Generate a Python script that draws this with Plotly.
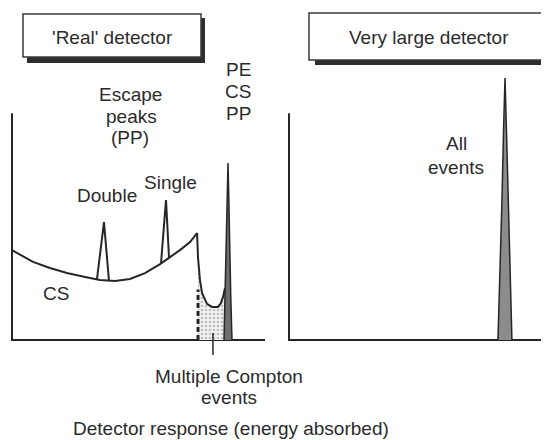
import numpy as np
import plotly.graph_objects as go

# ---- data (energy in keV, counts in arbitrary units) ----
# continuum of the 'real' detector: Compton shelf, edge, multiple-Compton valley
cont_energy = [0, 173, 313, 453, 602, 725, 849, 972, 1096, 1220, 1302, 1384,
               1467, 1525, 1533, 1549, 1566, 1607, 1648, 1698, 1722, 1739, 1755]
cont_counts = [32.1, 27.9, 25.7, 23.9, 22.5, 21.4, 21.1, 21.8, 23.9, 27.1, 29.6,
               32.1, 35.0, 38.2, 29.3, 21.4, 16.8, 12.9, 11.8, 11.8, 13.2, 15.4, 18.6]

# escape peaks (double, single)
esc_names = ["Double", "Single"]
esc_energy = [758, 1269]
esc_top = [42.1, 50.0]
esc_left = [700, 1228]
esc_right = [799, 1294]

# full-energy peak, real detector
pe_energy = [1747, 1758, 1767, 1773, 1780, 1786, 1792, 1803, 1813]
pe_counts = [0, 20, 36, 52, 63.2, 52, 36, 15, 0]

# full-energy peak, very large detector
big_energy = [1722, 1740, 1755, 1768, 1780, 1792, 1805, 1820, 1837]
big_counts = [0, 25, 50, 75, 93.6, 75, 50, 25, 0]

# multiple Compton region
mc_start = 1533
mc_end = 1755
mc_dash_top = 18.0
mc_pointer = 1656

axis_end = 2085
axis_top = 81

# ---- layout helpers (pixel geometry of the page) ----
PAGE_W, PAGE_H = 549, 440
OFF = 8                      # default body margin of the html page
W, H = PAGE_W - OFF, PAGE_H - OFF
KX = 0.12135  # px per keV
KY = 2.8      # px per count
BASE = 340    # page row of the zero line


def px(x):
    return (x - OFF) / W


def py(y):
    return 1 - (y - OFF) / H


FONT = dict(family="Liberation Sans, Arial, sans-serif", size=19, color="#2b2b2b")
INK = "#262626"

fig = go.Figure()

# axis frames
for xa, ya in (("x", "y"), ("x2", "y2")):
    fig.add_trace(go.Scatter(
        x=[0, 0, axis_end], y=[axis_top, 0, 0], mode="lines",
        line=dict(color=INK, width=2), xaxis=xa, yaxis=ya, hoverinfo="skip"))

# multiple Compton shaded region
e_arr = np.array(cont_energy)
c_arr = np.array(cont_counts)
mask = (e_arr >= mc_start) & (e_arr <= mc_end)
fig.add_trace(go.Scatter(
    x=e_arr[mask], y=c_arr[mask], mode="lines", fill="tozeroy",
    line=dict(width=0), fillcolor="rgba(0,0,0,0)",
    fillpattern=dict(shape=".", fgcolor="#8a8a8a", bgcolor="#f2f2f2", size=4, solidity=0.35),
    xaxis="x", yaxis="y", hoverinfo="skip"))
fig.add_trace(go.Scatter(
    x=[mc_start, mc_start], y=[0, mc_dash_top], mode="lines",
    line=dict(color=INK, width=3, dash="5px,3px"), xaxis="x", yaxis="y"))
fig.add_trace(go.Scatter(
    x=[mc_pointer, mc_pointer], y=[2.5, -5.4], mode="lines",
    line=dict(color=INK, width=1.5), xaxis="x", yaxis="y"))

# continuum
fig.add_trace(go.Scatter(
    x=cont_energy, y=cont_counts, mode="lines",
    line=dict(color=INK, width=2), xaxis="x", yaxis="y"))

# escape peaks
for e, top, l, r in zip(esc_energy, esc_top, esc_left, esc_right):
    fig.add_trace(go.Scatter(
        x=[l, e, r], y=[np.interp(l, cont_energy, cont_counts), top,
                        np.interp(r, cont_energy, cont_counts)],
        mode="lines", line=dict(color=INK, width=2), xaxis="x", yaxis="y"))

# full-energy peaks
fig.add_trace(go.Scatter(
    x=pe_energy, y=pe_counts, mode="lines", fill="toself", fillcolor="#6e6e6e",
    line=dict(color=INK, width=1.5), xaxis="x", yaxis="y"))
fig.add_trace(go.Scatter(
    x=big_energy, y=big_counts, mode="lines", fill="toself", fillcolor="#8c8c8c",
    line=dict(color=INK, width=1.5), xaxis="x2", yaxis="y2"))

# title boxes with drop shadow
boxes = [((23, 14, 201, 57), (27, 18, 205, 63)),
         ((309, 13, 547, 60), (315, 17, 552, 65))]
for (x0, y0, x1, y1), (sx0, sy0, sx1, sy1) in boxes:
    fig.add_shape(type="rect", xref="paper", yref="paper",
                  x0=px(sx0), x1=px(sx1), y0=py(sy0), y1=py(sy1),
                  fillcolor="#2e2e2e", line=dict(width=0))
    fig.add_shape(type="rect", xref="paper", yref="paper",
                  x0=px(x0), x1=px(x1), y0=py(y0), y1=py(y1),
                  fillcolor="white", line=dict(color="#3a3a3a", width=1.5))

labels = [
    ("'Real' detector", 112, 37),
    ("Very large detector", 429, 37),
    ("PE", 238, 70), ("CS", 238, 92), ("PP", 238, 114),
    ("Escape", 130, 95), ("peaks", 131, 116), ("(PP)", 130, 137),
    (esc_names[0], 107, 196), (esc_names[1], 170, 182),
    ("CS", 56, 293),
    ("All", 456, 143), ("events", 456, 167),
    ("Multiple Compton", 229, 376), ("events", 229, 397),
    ("Detector response (energy absorbed)", 231, 428),
]
for text, x, y in labels:
    fig.add_annotation(text=text, x=px(x), y=py(y), xref="paper", yref="paper",
                       showarrow=False, xanchor="center", yanchor="middle", font=FONT)

y_range = [(BASE - PAGE_H) / KY, (BASE - OFF) / KY]
fig.update_layout(
    width=W, height=H, margin=dict(l=0, r=0, t=0, b=0),
    paper_bgcolor="white", plot_bgcolor="white", showlegend=False,
    xaxis=dict(domain=[0, px(275)], range=[(OFF - 12) / KX, (275 - 12) / KX],
               visible=False, anchor="y"),
    xaxis2=dict(domain=[px(275), 1], range=[(275 - 289) / KX, (PAGE_W - 289) / KX],
                visible=False, anchor="y2"),
    yaxis=dict(domain=[0, 1], range=y_range, visible=False, anchor="x"),
    yaxis2=dict(domain=[0, 1], range=y_range, visible=False, anchor="x2"),
)

fig.write_html("out.html")
